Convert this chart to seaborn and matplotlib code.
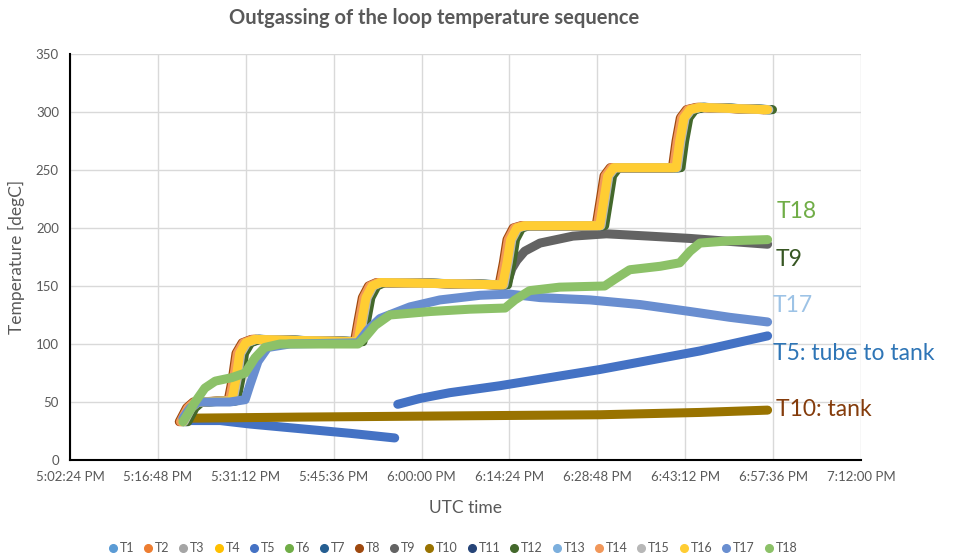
import matplotlib
matplotlib.use("Agg")
import matplotlib.pyplot as plt
from matplotlib.lines import Line2D
from matplotlib.ticker import FixedLocator, FuncFormatter
import numpy as np
import pandas as pd
import seaborn as sns

# ---------------- data (time in minutes after 5:00:00 PM, temperature in degC) -------------
SENSORS = ["T1", "T2", "T3", "T4", "T5", "T6", "T7", "T8", "T9", "T10",
           "T11", "T12", "T13", "T14", "T15", "T16", "T17", "T18"]
COLORS = ["#5B9BD5", "#ED7D31", "#A5A5A5", "#FFC000", "#4472C4", "#70AD47",
          "#255E91", "#9E480E", "#636363", "#997300", "#264478", "#43682B",
          "#7CAFDD", "#F1975A", "#B7B7B7", "#FFCD33", "#698ED0", "#8CC168"]

# heated loop sensors (stepwise profile shared by the main group)
MAIN_T = [20.9, 22.1, 23.2, 28.9, 29.6, 30.2, 31.2, 32.7, 40.1, 49.6, 50.2, 50.9,
          51.9, 53.2, 64.6, 73.3, 74.0, 74.6, 75.6, 76.9, 89.2, 89.9, 90.5, 91.5,
          101.7, 102.3, 103.0, 104.0, 105.6, 116.7]
MAIN_V = [33, 45, 50, 51, 70, 92, 101, 104, 103, 102, 120, 140,
          150, 153, 152, 151, 170, 190, 200, 202, 202, 225, 245, 252,
          252, 275, 295, 302, 304, 302]
MAIN_GROUP = ["T1", "T2", "T3", "T4", "T6", "T7", "T8", "T11", "T12",
              "T13", "T14", "T15", "T16"]
# small step-timing offsets (minutes) read from the spread of the steps
MAIN_LAG = [0.0, -0.3, 0.2, -0.2, 0.3, 0.5, -0.6, 0.6, 0.8, 0.1, -0.4, 0.2, 0.0]

T9_T = [20.9, 22.1, 23.2, 28.9, 29.6, 30.2, 31.2, 32.7, 40.1, 49.6, 50.2, 50.9,
        51.9, 53.2, 64.6, 73.3, 74.0, 74.8, 75.6, 76.9, 79.4, 84.8, 90.3, 97.3,
        104.0, 116.7]
T9_V = [33, 45, 50, 51, 70, 92, 101, 104, 103, 102, 120, 140,
        150, 153, 152, 151, 152, 165, 172, 180, 187, 193, 195, 193,
        191, 186]

T5A_T = [20.9, 27.0, 31.9, 40.1, 48.3, 55.6]
T5A_V = [34, 34, 31, 27, 23, 19]
T5B_T = [56.1, 59.7, 64.6, 72.8, 81.0, 89.2, 97.4, 105.6, 116.7]
T5B_V = [48, 53, 58, 64, 71, 78, 86, 94, 107]

T10_T = [21.2, 40.1, 64.6, 89.2, 105.6, 116.7]
T10_V = [36, 37, 38, 39, 41, 43]

T17_T = [20.9, 22.1, 23.4, 28.6, 31.1, 31.9, 33.2, 34.8, 38.4, 49.6, 51.2, 53.2,
         58.1, 63.0, 69.6, 74.5, 79.4, 87.6, 95.8, 104.0, 110.5, 116.7]
T17_V = [36, 45, 50, 50, 52, 65, 85, 97, 100, 101, 112, 122,
         132, 138, 142, 143, 140, 138, 134, 128, 123, 119]

T18_T = [20.9, 22.9, 24.5, 26.2, 28.9, 31.1, 32.7, 34.3, 36.8, 49.6, 50.8, 52.4,
         54.8, 61.4, 67.9, 73.7, 75.3, 77.7, 82.6, 90.0, 91.7, 94.1, 99.1, 102.3,
         104.0, 105.6, 110.5, 116.7]
T18_V = [33, 50, 62, 68, 71, 75, 88, 97, 100, 100, 106, 116,
         125, 128, 130, 131, 138, 146, 149, 150, 156, 164, 167, 170,
         180, 187, 189, 190]

X_TICKS = [2.4, 16.8, 31.2, 45.6, 60.0, 74.4, 88.8, 103.2, 117.6, 132.0]
Y_TICKS = [0, 50, 100, 150, 200, 250, 300, 350]

ANNOTATIONS = [("T18", "#70AD47"), ("T9", "#375623"), ("T17", "#9DC3E6"),
               ("T5: tube to tank", "#2E75B6"), ("T10: tank", "#843C0C")]

# ---------------- build long table ----------------
rows = []
for name, lag in zip(MAIN_GROUP, MAIN_LAG):
    for t, v in zip(MAIN_T, MAIN_V):
        rows.append((name, name, t + lag, v))
for t, v in zip(T5A_T, T5A_V):
    rows.append(("T5", "T5a", t, v))
for t, v in zip(T5B_T, T5B_V):
    rows.append(("T5", "T5b", t, v))
for t, v in zip(T9_T, T9_V):
    rows.append(("T9", "T9", t, v))
for t, v in zip(T10_T, T10_V):
    rows.append(("T10", "T10", t, v))
for t, v in zip(T17_T, T17_V):
    rows.append(("T17", "T17", t, v))
for t, v in zip(T18_T, T18_V):
    rows.append(("T18", "T18", t, v))
df = pd.DataFrame(rows, columns=["sensor", "seg", "time", "temp"])

# ---------------- figure ----------------
sns.set_theme(style="white")
plt.rcParams["font.family"] = ["Lato", "DejaVu Sans"]

fig = plt.figure(figsize=(9.56, 5.59), dpi=100)
ax = fig.add_axes([70 / 956, 1 - 460 / 559, 791 / 956, 406 / 559])

palette = dict(zip(SENSORS, COLORS))
for name in SENSORS:
    sub = df[df["sensor"] == name]
    sns.lineplot(data=sub, x="time", y="temp", units="seg", estimator=None,
                 color=palette[name], lw=6.5, sort=False, ax=ax, legend=False,
                 solid_capstyle="round", solid_joinstyle="round")

ax.set_xlim(X_TICKS[0], X_TICKS[-1])
ax.set_ylim(Y_TICKS[0], Y_TICKS[-1])
ax.xaxis.set_major_locator(FixedLocator(X_TICKS))
ax.yaxis.set_major_locator(FixedLocator(Y_TICKS))


def fmt_time(m, pos=None):
    secs = int(round(17 * 3600 + m * 60))
    h, rem = divmod(secs, 3600)
    mi, s = divmod(rem, 60)
    ampm = "PM" if h >= 12 else "AM"
    h12 = h % 12 or 12
    return f"{h12}:{mi:02d}:{s:02d} {ampm}"


ax.xaxis.set_major_formatter(FuncFormatter(fmt_time))
ax.grid(True, color="#D9D9D9", lw=1)
ax.set_axisbelow(True)
for sp in ["top", "right"]:
    ax.spines[sp].set_visible(False)
for sp in ["left", "bottom"]:
    ax.spines[sp].set_color("black")
    ax.spines[sp].set_linewidth(1.5)
ax.tick_params(axis="both", direction="out", length=5, width=1.2, color="black",
               labelcolor="#595959", labelsize=9.5, pad=3)
ax.set_xlabel("UTC time", fontsize=12.5, color="#595959", labelpad=12)
ax.set_ylabel("Temperature [degC]", fontsize=12.5, color="#595959", labelpad=8)

fig.text(434 / 956, 1 - 18 / 559, "Outgassing of the loop temperature sequence",
         ha="center", va="center", fontsize=14.5, fontweight="bold", color="#595959")

ann_y = [211, 259, 305, 353, 410]
ann_x = [777, 776, 773, 773, 776]
for (txt, col), px, py in zip(ANNOTATIONS, ann_x, ann_y):
    ax.text((px - 70) / 791, (460 - py) / 406, txt, transform=ax.transAxes,
            ha="left", va="center", fontsize=16.5, color=col, clip_on=False)

handles = [Line2D([], [], ls="none", marker="o", markersize=5.5,
                  markerfacecolor=c, markeredgecolor=c) for c in COLORS]
fig.legend(handles, SENSORS, loc="center", bbox_to_anchor=(452 / 956, 1 - 548 / 559),
           ncol=18, frameon=False, fontsize=9, handletextpad=0.05,
           columnspacing=0.6, handlelength=1.0, labelcolor="#595959")

fig.savefig("out.png", dpi=100)
